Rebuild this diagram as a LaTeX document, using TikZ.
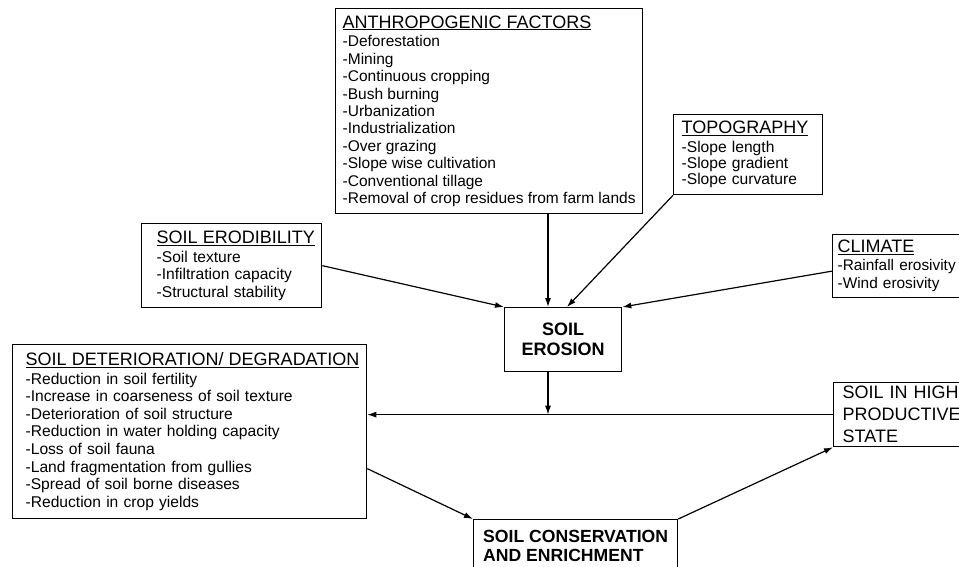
\documentclass[tikz,border=0pt]{standalone}
\usepackage{fontspec}
\setmainfont{Liberation Sans}
\usepackage{tikz}
\usetikzlibrary{arrows.meta,positioning,shapes}

\newcommand{\listsize}{\fontsize{15.6}{17.4}\selectfont}
\newcommand{\headsize}{\fontsize{18}{20}\selectfont}

\begin{document}
\begin{tikzpicture}[
            x=1pt,y=-1pt,
            box/.style={draw,rectangle,line width=1.3pt,anchor=north west,align=left,inner ysep=0pt,font=\listsize},
            state/.style={box,font=\fontsize{18}{22}\selectfont,inner xsep=9pt},
            core/.style={box,align=center,font=\bfseries\fontsize{18}{20}\selectfont},
            flow/.style={->,>={Latex[length=9pt,width=6pt]},line width=1.2pt}
          ]
          \useasboundingbox (0,0) rectangle (959,567);

          %causes
          \node[box,minimum width=307pt,minimum height=205pt,
                font=\fontsize{15.5}{17.4}\selectfont] (anthro) at (335,8)
            {{\headsize\underline{ANTHROPOGENIC FACTORS}}\\[1.5pt]
             -Deforestation\\ -Mining\\ -Continuous cropping\\ -Bush burning\\
             -Urbanization\\ -Industrialization\\ -Over grazing\\
             -Slope wise cultivation\\ -Conventional tillage\\
             -Removal of crop residues from farm lands};
          \node[box,inner xsep=8pt,text width=133pt,minimum height=80pt,
                font=\fontsize{15.6}{16.4}\selectfont] (topo) at (673,114)
            {{\headsize\underline{TOPOGRAPHY}}\\[2pt]
             -Slope length\\ -Slope gradient\\ -Slope curvature};
          \node[box,inner xsep=15pt,text width=150pt,minimum height=84pt] (erod) at (141,223)
            {{\headsize\underline{SOIL ERODIBILITY}}\\[1.5pt]
             -Soil texture\\ -Infiltration capacity\\ -Structural stability};
          \node[box,inner xsep=5pt,text width=120pt,minimum height=63pt,
                font=\fontsize{15.4}{18}\selectfont] (climate) at (832,234)
            {{\headsize\underline{CLIMATE}}\\
             -Rainfall erosivity\\ -Wind erosivity};

          %centre
          \node[core,minimum width=117pt,minimum height=64pt] (erosion) at (504,307) {SOIL\\EROSION};

          %effects
          \node[box,inner xsep=13pt,text width=328pt,minimum height=174pt,
                font=\fontsize{15.6}{17.6}\selectfont] (det) at (12,344)
            {{\headsize\underline{SOIL DETERIORATION/ DEGRADATION}}\\[0.5pt]
             -Reduction in soil fertility\\ -Increase in coarseness of soil texture\\
             -Deterioration of soil structure\\ -Reduction in water holding capacity\\
             -Loss of soil fauna\\ -Land fragmentation from gullies\\
             -Spread of soil borne diseases\\ -Reduction in crop yields};
          \node[state,text width=122pt,minimum height=64pt] (high) at (833,382)
            {SOIL IN HIGH\\PRODUCTIVE\\STATE};
          \node[core,align=left,minimum width=204pt,minimum height=52pt,
                font=\bfseries\fontsize{17.6}{19}\selectfont] (cons) at (473,519)
            {SOIL CONSERVATION\\AND ENRICHMENT};

          %arrows
          \coordinate (in1) at ([xshift=44pt]erosion.north west);
          \coordinate (in2) at ([xshift=63pt]erosion.north west);
          \coordinate (out1) at ([xshift=44pt]erosion.south west);
          \coordinate (join) at (out1 |- high.west);
          \path[flow]
          (anthro.south -| in1) edge (in1)
          (topo.south west) edge (in2)
          (erod.east) edge (erosion.north west)
          ([yshift=-5pt]climate.west) edge (erosion.north east)
          (out1) edge (join)
          ([yshift=-37pt]det.east) edge (cons.north west)
          (cons.north east) edge (high.south west)
          ;
          \path[flow,line width=0.9pt]
          (high.west) edge (high.west -| det.east)
          ;

      \end{tikzpicture}
\end{document}
